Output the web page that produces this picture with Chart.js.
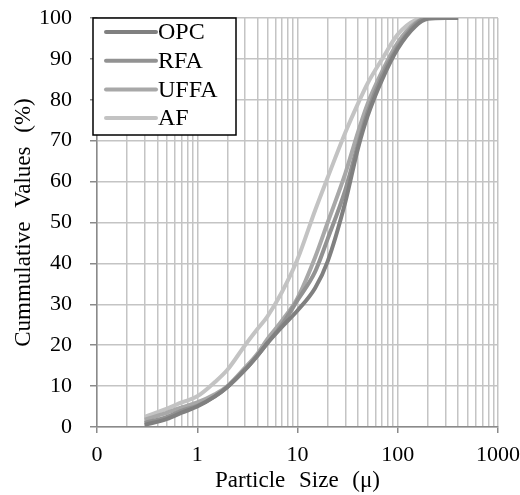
<!DOCTYPE html>
<html><head><meta charset="utf-8">
<script src="https://cdn.jsdelivr.net/npm/chart.js@4/dist/chart.umd.min.js"></script>
<style>html,body{margin:0;padding:0;background:#fff}</style>
</head><body>
<canvas id="c" width="520" height="495" style="width:520px;height:495px"></canvas>
<script>
// ---- data ----
const particleSizes = [0.3,0.5,0.7,1,1.5,2,3,4,5,7,10,15,20,30,40,50,70,100,150,200,300,400];
const opcValues  = [0.5,2,3.5,5,7.5,9.8,14,17.5,20.5,24.5,28.5,34,40.5,55,68,76,85,92.5,98,99.8,100,100];
const rfaValues  = [1,2.5,4,5.2,7.5,9.8,14,17.5,20.5,25,31,38,46,58,69,77,86,93,98.5,100,100,100];
const uffaValues = [1.8,3.5,4.8,6,8,10,14.5,18,21.5,26,31.5,41.5,50,62,72,79,87,94,98.8,100,100,100];
const afValues   = [2.5,4.5,6,7.5,11,14,20,24,27,33,41,53,61,72,79,84,90,96,99.5,100,100,100];
const seriesNames  = ['OPC','RFA','UFFA','AF'];
const seriesColors = ['#808080','#929292','#a8a8a8','#c3c3c3'];
const xMajorTicks  = [0.1,1,10,100,1000];
const xMajorLabels = ['0','1','10','100','1000'];
const yTickValues  = [0,10,20,30,40,50,60,70,80,90,100];
const xTitle = 'Particle Size (μ)';
const yTitle = 'Cummulative Values (%)';

const seriesValues = [opcValues, rfaValues, uffaValues, afValues];
// grid positions for the log axis: 1..9 x each decade
const xGridValues = [];
for (let d = 0; d < xMajorTicks.length - 1; d++) {
  for (let m = 1; m <= 9; m++) xGridValues.push(+(xMajorTicks[d] * m).toPrecision(6));
}
xGridValues.push(xMajorTicks[xMajorTicks.length - 1]);
const isMajor = v => xMajorTicks.some(m => Math.abs(m - v) < 1e-9);

const FONT = 'Liberation Serif, "Times New Roman", serif';

const spacingPlugin = {
  id: 'spacing',
  beforeDraw(chart) { try { chart.ctx.wordSpacing = '8px'; } catch (e) {} }
};

const legendPlugin = {
  id: 'boxLegend',
  afterDatasetsDraw(chart) {
    const ctx = chart.ctx, a = chart.chartArea;
    const x0 = a.left - 4, y0 = a.top, w = 143, h = 117;
    ctx.save();
    ctx.fillStyle = '#fff';
    ctx.fillRect(x0, y0, w, h);
    ctx.strokeStyle = '#000';
    ctx.lineWidth = 1.5;
    ctx.strokeRect(x0, y0, w, h);
    ctx.font = '24px ' + FONT;
    ctx.textBaseline = 'middle';
    ctx.textAlign = 'left';
    chart.data.datasets.forEach((ds, i) => {
      const y = y0 + 14 + i * 28.7;
      ctx.strokeStyle = ds.borderColor;
      ctx.lineWidth = 4;
      ctx.lineCap = 'round';
      ctx.beginPath();
      ctx.moveTo(x0 + 13, y);
      ctx.lineTo(x0 + 63, y);
      ctx.stroke();
      ctx.fillStyle = '#000';
      ctx.fillText(ds.label, x0 + 65, y + 1);
    });
    ctx.restore();
  }
};

new Chart(document.getElementById('c'), {
  type: 'line',
  data: {
    datasets: seriesNames.map((n, i) => ({
      label: n,
      data: particleSizes.map((x, j) => ({x, y: seriesValues[i][j]})),
      borderColor: seriesColors[i],
      backgroundColor: seriesColors[i],
      borderWidth: 4,
      pointRadius: 0,
      fill: false,
      cubicInterpolationMode: 'monotone'
    }))
  },
  options: {
    responsive: false,
    animation: false,
    devicePixelRatio: 1,
    layout: { autoPadding: false, padding: { left: 0, right: 22, top: 18, bottom: 0 } },
    plugins: { legend: { display: false }, tooltip: { enabled: false } },
    scales: {
      x: {
        type: 'logarithmic',
        min: 0.1, max: 1000,
        afterBuildTicks: s => { s.ticks = xGridValues.map(v => ({ value: v, major: isMajor(v) })); },
        afterFit: s => { s.height = 68; s.paddingLeft = 0; s.paddingRight = 0; s.paddingTop = 0; s.paddingBottom = 0; },
        ticks: {
          autoSkip: false, maxRotation: 0, padding: 9,
          color: '#000',
          font: { family: FONT, size: 22 },
          callback: (v) => { const k = xMajorTicks.findIndex(m => Math.abs(m - v) < 1e-9); return k >= 0 ? xMajorLabels[k] : ''; }
        },
        grid: {
          color: '#c4c4c4', lineWidth: 1.5, tickLength: 6,
          tickColor: c => (c.tick && isMajor(c.tick.value)) ? '#8a8a8a' : 'rgba(0,0,0,0)',
          tickWidth: 1.5
        },
        border: { display: true, color: '#8a8a8a', width: 1.5 },
        title: { display: true, text: xTitle, color: '#000', font: { family: FONT, size: 23, lineHeight: 1.2 }, padding: { top: 0, bottom: 0.5 } }
      },
      y: {
        min: 0, max: 100,
        afterBuildTicks: s => { s.ticks = yTickValues.map(v => ({ value: v })); },
        afterFit: s => { s.width = 97; s.paddingLeft = 0; s.paddingRight = 0; s.paddingTop = 0; s.paddingBottom = 0; },
        ticks: { color: '#000', padding: 18, font: { family: FONT, size: 22 } },
        grid: { color: '#c4c4c4', lineWidth: 1.5, tickLength: 7, tickColor: '#8a8a8a', tickWidth: 1.5 },
        border: { display: true, color: '#8a8a8a', width: 1.5 },
        title: { display: true, text: yTitle, color: '#000', font: { family: FONT, size: 23, lineHeight: 1.2 }, padding: { top: 10.5, bottom: 0 } }
      }
    }
  },
  plugins: [spacingPlugin, legendPlugin]
});
</script>
</body></html>
